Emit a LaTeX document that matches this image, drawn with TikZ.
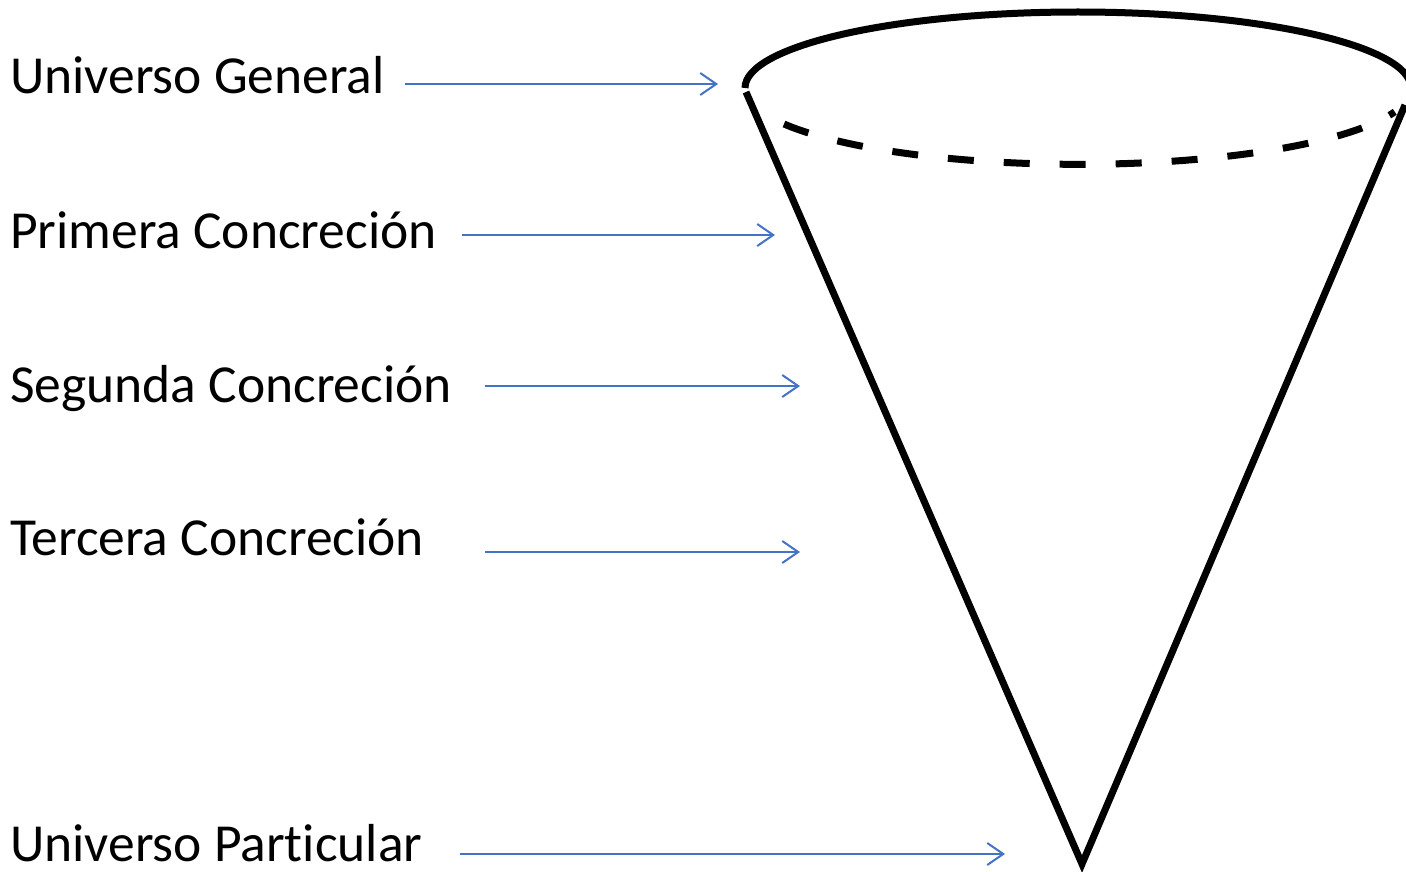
\documentclass[tikz,border=0pt]{standalone}
\usepackage{fontspec}
\setmainfont[Ligatures=NoCommon]{Carlito}
\usepackage{tikz}
\usetikzlibrary{shapes, arrows.meta, positioning}
\definecolor{azul}{HTML}{4472C4}
\tikzstyle{etiqueta} = [anchor=base west, inner sep=0pt, font=\fontsize{53.5}{60}\selectfont]
\tikzstyle{flecha} = [draw, color=azul, line width=2pt, -{Straight Barb[length=16pt, width=22pt]}]
\tikzstyle{borde} = [draw, line width=7pt, line join=miter]
\tikzstyle{oculto} = [draw, line width=7pt, dash pattern=on 26pt off 30pt]

\begin{document}
\begin{tikzpicture}[x=1pt, y=-1pt]
			\useasboundingbox (0, 0) rectangle (1406, 872);
			% textos
			\node [etiqueta] (general) at (10, 94) {Universo General};
			\node [etiqueta] (primera) at (10, 248) {Primera Concreción};
			\node [etiqueta] (segunda) at (10, 402) {Segunda Concreción};
			\node [etiqueta] (tercera) at (10, 555) {Tercera Concreción};
			\node [etiqueta] (particular) at (10, 861) {Universo Particular};
			
			% flechas
			\coordinate (g1) at (405, 84);
			\coordinate (g2) at (718, 84);
			\coordinate (p1) at (462, 235);
			\coordinate (p2) at (775, 235);
			\coordinate (s1) at (485, 386);
			\coordinate (s2) at (800, 386);
			\coordinate (t1) at (485, 552);
			\coordinate (t2) at (800, 552);
			\coordinate (u1) at (460, 854);
			\coordinate (u2) at (1005, 854);
			\path [flecha] (g1) -- (g2);
			\path [flecha] (p1) -- (p2);
			\path [flecha] (s1) -- (s2);
			\path [flecha] (t1) -- (t2);
			\path [flecha] (u1) -- (u2);
			
			% cono
			\coordinate (izq) at (745, 88);
			\coordinate (ladoizq) at (746, 92);
			\coordinate (ladoder) at (1405, 105);
			\coordinate (apice) at (1082, 864);
			\coordinate (baseizq) at (784, 124);
			\path [borde] (izq) arc [start angle=180, end angle=360, x radius=333, y radius=76];
			\path [oculto] (baseizq) arc [start angle=152, end angle=18, x radius=333, y radius=76];
			\path [borde] (ladoizq) -- (apice) -- (ladoder);
		\end{tikzpicture}
\end{document}
